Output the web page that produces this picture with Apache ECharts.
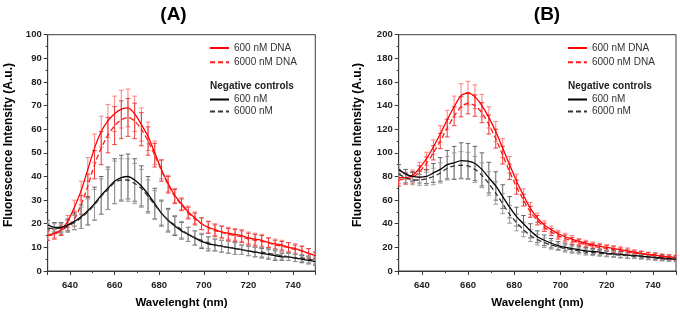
<!DOCTYPE html>
<html><head><meta charset="utf-8">
<script src="https://cdn.jsdelivr.net/npm/echarts@6/dist/echarts.min.js"></script>
<style>html,body{margin:0;padding:0;background:#fff}#c{width:680px;height:313px}</style>
</head><body><div id="c"></div>
<script>
// ---- data ----
const wavelength = [630,633,636,639,642,645,648,651,654,657,660,663,666,669,672,675,678,681,684,687,690,693,696,699,702,705,708,711,714,717,720,723,726,729,732,735,738,741,744,747,750];
const xTickLabels = [640,660,680,700,720,740];
const panelTitles = ['(A)', '(B)'];
const seriesNames = ['600 nM DNA', '6000 nM DNA', '600 nM', '6000 nM'];
const legendHeader = 'Negative controls';
const xTitle = 'Wavelenght (nm)';
const yTitle = 'Fluorescence Intensity (A.u.)';

// Panel A
const A_dna600 = [15,16,17.5,21,27, 34,43,52,59,63.5, 66.5,68.5,69,66.5,62, 57,50,43,37,32, 28.5,25,22.5,20,18.5, 17.5,16.5,16,15.5,15, 14,13.5,13,12,11.5, 11,10,9.5,8.5,7.5, 6.5];
const A_dna6000 = [15,15.5,17,19,22, 28,36,45,52,57.5, 61.5,64,65,63.5,60, 55,49,42.5,36.5,31.5, 28,24.5,22,20,18.5, 17,16.5,15.5,15,14.5, 13.5,13,12.5,12,11, 10.5,10,9,8.5,7.5, 6.5];
const A_ctl600 = [19.5,18.5,18.5,19.5,21, 23,25.5,28.5,32,35, 38,39.5,40,38.5,36, 32.5,28.5,24.5,21.5,19, 17,15.5,14,12.5,11.5, 11,10.5,10,9.5,9, 8.5,8,7.5,7,6.5, 6,6,5.5,5,4.5, 4];
const A_ctl6000 = [18,18,18,19,20.5, 22.5,25,28,31.5,34.5, 37.5,38.5,38.5,37,35, 31.5,28,24.5,21.5,19.5, 17.5,15.5,14,13,12, 11,10.5,10,9.5,9, 8.5,8,8,7.5,7, 6.5,6,5.5,5.5,5, 4.5];
const A_err_dna600 = [2,2,2,2.5,3, 4,5,6,6.5,7, 7.5,8,8,7.5,7, 6,5,4,3.5,3, 2.5,2.5,2.5,2.5,2.5, 2.5,2.5,2.5,2.5,2.5, 2.5,2.5,2.5,2,2, 2,2,2,2,2, 1.5];
const A_err_dna6000 = [2,2,2,2.5,3, 4,5,6,7,7.5, 8,8,8,7.5,7, 6,5,4.5,3.5,3, 2.5,2.5,2.5,2.5,2.5, 2.5,2.5,2.5,2.5,2.5, 2.5,2.5,2.5,2,2, 2,2,2,2,2, 1.5];
const A_err_ctl600 = [2,2,2,2.5,3.5, 5,6,7,8,9, 9.5,9.5,9.5,9,8.5, 7.5,6.5,5.5,5,4, 3.5,3,3,3,3, 2.5,2.5,2.5,2.5,2, 2,2,2,2,2, 1.5,1.5,1.5,1.5,1.5, 1.5];
const A_err_ctl6000 = [2,2,2,2.5,3, 4.5,5.5,6.5,7.5,8.5, 9,9,9,8.5,8, 7,6,5,4.5,4, 3.5,3,3,3,2.5, 2.5,2.5,2.5,2.5,2, 2,2,2,2,2, 1.5,1.5,1.5,1.5,1.5, 1.5];

// Panel B
const B_dna600 = [79,79,81,87,95, 105,116,128,139,148.5, 150.5,147.5,140,130,118, 104,90,76,64,53, 45,39,35,31.5,29, 27,25,23.5,22,21, 20,19,18,17,16, 15,14,13.5,12.5,12, 11.5];
const B_dna6000 = [77,78,79,84,91, 100,110,121,131,139, 142,140,134,124,112, 98,84,71,60,50, 43,37,33,30,27.5, 25.5,24,22.5,21,20, 19,18,17,16,15, 14.5,13.5,13,12,11.5, 11];
const B_ctl600 = [86,82,80,79.5,80, 83,86,90,91.5,93.5, 93,91,86,79,72, 63,54,46,40,34, 29,26,23.5,21.5,20, 19,18,17,16.5,16, 15,14.5,14,13.5,13, 12.5,12,11.5,11,10.5, 10];
const B_ctl6000 = [82,79,77,77,78, 80,83,87,89,89.5, 89,86,81,74,66, 57,48,41,35,30, 26.5,24,22,20.5,19, 18,17,16,15.5,15, 14.5,14,13.5,13,12.5, 12,11.5,11,10.5,10, 10];
const B_err_dna600 = [5,4.5,4.5,5,5.5, 6,7,8,9,10, 10,10,9.5,9,8.5, 8,7,6,5.5,5, 4,3.5,3,3,3, 3,2.5,2.5,2.5,2.5, 2.5,2.5,2.5,2.5,2, 2,2,2,2,2, 2];
const B_err_dna6000 = [5,4.5,4.5,5,5.5, 6,6.5,7.5,8,8.5, 9,9,8.5,8,8, 7.5,6.5,6,5,4.5, 4,3.5,3,3,3, 3,2.5,2.5,2.5,2.5, 2.5,2.5,2.5,2.5,2, 2,2,2,2,2, 2];
const B_err_ctl600 = [4,4,4,5,6, 8,10,12,14,15, 15,14.5,14,13,12, 10,9,8,7,6, 5,4.5,4,3.5,3, 3,2.5,2.5,2.5,2.5, 2.5,2.5,2.5,2.5,2, 2,2,2,2,2, 2];
const B_err_ctl6000 = [4,4,4,4.5,5.5, 7,8.5,10,11,11.5, 11.5,11,10.5,10,9.5, 8.5,7.5,7,6,5, 4.5,4,3.5,3,3, 3,2.5,2.5,2.5,2.5, 2.5,2.5,2.5,2.5,2, 2,2,2,2,2, 2];

const yMax = [100, 200];
const yStep = [10, 20];

// ---- styles ----
const FONT = '"Liberation Sans", Arial, sans-serif';
const AXIS_COLOR = '#3a3a3a';
const lineColors = ['#ff0000', '#ff1a1a', '#000000', '#333333'];
const lineTypes = ['solid', [5, 3], 'solid', [5, 3]];
const errColors = ['#ff7f7f', '#f03c3c', '#666666', '#9a9a9a'];

const panels = [
  {values: [A_dna600, A_dna6000, A_ctl600, A_ctl6000], errs: [A_err_dna600, A_err_dna6000, A_err_ctl600, A_err_ctl6000]},
  {values: [B_dna600, B_dna6000, B_ctl600, B_ctl6000], errs: [B_err_dna600, B_err_dna6000, B_err_ctl600, B_err_ctl6000]}
];
const gridBoxes = [
  {left: 47.7, top: 34.7, width: 267.6, height: 236.3},
  {left: 398.7, top: 34.7, width: 277.3, height: 236.3}
];
const legendLeft = [209, 567];
const titleX = [173.5, 547];
const yTitleX = [9, 358];

function errRender(params, api) {
  const x = api.value(0), lo = api.value(1), hi = api.value(2);
  const p1 = api.coord([x, hi]);
  const p2 = api.coord([x, lo]);
  const w = 2.3;
  const style = {stroke: api.visual('color'), lineWidth: 1};
  return {type: 'group', children: [
    {type: 'line', shape: {x1: p1[0], y1: p1[1], x2: p2[0], y2: p2[1]}, style},
    {type: 'line', shape: {x1: p1[0] - w, y1: p1[1], x2: p1[0] + w, y2: p1[1]}, style},
    {type: 'line', shape: {x1: p2[0] - w, y1: p2[1], x2: p2[0] + w, y2: p2[1]}, style}
  ]};
}

const grid = [], xAxis = [], yAxis = [], series = [], legend = [], graphic = [];
panels.forEach((p, k) => {
  grid.push(Object.assign({show: true, borderColor: AXIS_COLOR, borderWidth: 1, backgroundColor: 'transparent'}, gridBoxes[k]));
  xAxis.push({
    type: 'value', gridIndex: k, min: 630, max: 750, splitNumber: 6,
    axisLine: {show: true, onZero: false, lineStyle: {color: AXIS_COLOR, width: 1}},
    axisTick: {show: true, inside: false, length: 4, lineStyle: {color: AXIS_COLOR}},
    minorTick: {show: true, splitNumber: 2, length: 2, lineStyle: {color: AXIS_COLOR}},
    splitLine: {show: false},
    axisLabel: {fontFamily: FONT, fontWeight: 'bold', fontSize: 9.5, color: '#222', margin: 9,
      showMinLabel: true, showMaxLabel: true,
      formatter: v => xTickLabels.indexOf(Math.round(v)) >= 0 ? String(Math.round(v)) : ''}
  });
  yAxis.push({
    type: 'value', gridIndex: k, min: 0, max: yMax[k], interval: yStep[k],
    axisLine: {show: true, onZero: false, lineStyle: {color: AXIS_COLOR, width: 1}},
    axisTick: {show: true, inside: false, length: 4, lineStyle: {color: AXIS_COLOR}},
    minorTick: {show: true, splitNumber: 2, length: 2, lineStyle: {color: AXIS_COLOR}},
    splitLine: {show: false},
    axisLabel: {fontFamily: FONT, fontWeight: 'bold', fontSize: 9.5, color: '#222', margin: 6}
  });
  p.values.forEach((arr, s) => {
    const err = p.errs[s];
    series.push({
      name: 'err ' + k + '-' + s, type: 'custom', xAxisIndex: k, yAxisIndex: k, z: 2, clip: true,
      itemStyle: {color: errColors[s]},
      encode: {x: 0, y: [1, 2]},
      renderItem: errRender,
      data: wavelength.map((w, i) => [w, arr[i] - err[i], arr[i] + err[i]]),
      silent: true
    });
  });
  p.values.forEach((arr, s) => {
    series.push({
      name: seriesNames[s], type: 'line', xAxisIndex: k, yAxisIndex: k, z: 3,
      symbol: 'none', showSymbol: false, smooth: 0.25,
      lineStyle: {color: lineColors[s], width: 1.3, type: lineTypes[s]},
      itemStyle: {color: lineColors[s]},
      data: wavelength.map((w, i) => [w, arr[i]]),
      silent: true
    });
  });
  const legStyle = {fontFamily: FONT, fontSize: 10, color: '#333', lineHeight: 12};
  const legItem = {opacity: 0, borderWidth: 0};
  legend.push({data: seriesNames.slice(0, 2), orient: 'vertical', left: legendLeft[k], top: 42,
    itemWidth: 19, itemHeight: 10, itemGap: 2.3, textStyle: legStyle, selectedMode: false, padding: 0, itemStyle: legItem});
  legend.push({data: seriesNames.slice(2, 4), orient: 'vertical', left: legendLeft[k], top: 93.5,
    itemWidth: 19, itemHeight: 10, itemGap: 0, textStyle: legStyle, selectedMode: false, padding: 0, itemStyle: legItem});
  graphic.push({type: 'text', left: legendLeft[k] + 1, top: 81, style: {text: legendHeader, font: 'bold 10px ' + FONT, fill: '#222'}});
  graphic.push({type: 'text', x: titleX[k], y: 14.5, style: {text: panelTitles[k], font: 'bold 19px ' + FONT, fill: '#000', align: 'center', verticalAlign: 'middle'}});
  graphic.push({type: 'text', x: gridBoxes[k].left + gridBoxes[k].width / 2, y: 302.5, style: {text: xTitle, font: 'bold 11.5px ' + FONT, fill: '#000', align: 'center', verticalAlign: 'middle'}});
  graphic.push({type: 'text', x: yTitleX[k], y: 145, rotation: Math.PI / 2, style: {text: yTitle, font: 'bold 12px ' + FONT, fill: '#000', align: 'center', verticalAlign: 'middle'}});
});

const chart = echarts.init(document.getElementById('c'), null, {renderer: 'canvas'});
chart.setOption({
  animation: false,
  backgroundColor: '#ffffff',
  grid, xAxis, yAxis, series, legend, graphic
});
</script>
</body></html>
